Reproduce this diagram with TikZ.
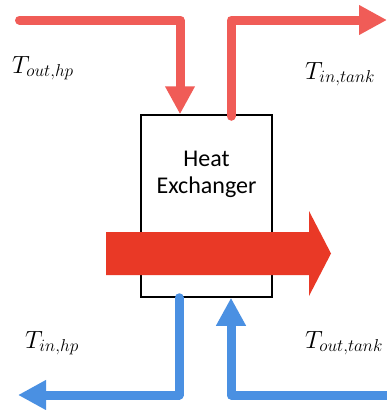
\documentclass[tikz,border=0pt]{standalone}
\usepackage{fontspec}
\setsansfont{Carlito}
\usetikzlibrary{arrows.meta}
\DeclareMathSizes{24}{24}{19}{15}
\definecolor{hotred}{RGB}{240,92,87}
\definecolor{bigred}{RGB}{233,57,38}
\definecolor{coldblue}{RGB}{74,144,226}
\tikzset{
  pipe/.style={line width=9pt, line cap=round, line join=round,
    -{Triangle[length=28pt,width=28pt]}},
  lbl/.style={anchor=base west, inner sep=0pt, font=\fontsize{24}{28}\selectfont},
  hxbox/.style={draw=black, line width=1.5pt, fill=white, minimum width=131pt,
    minimum height=182pt, inner sep=0pt}
}
\begin{document}
\begin{tikzpicture}[x=1pt,y=-1pt]
\useasboundingbox (0,0) rectangle (387,410);
% heat exchanger
\node[hxbox] (hx) at (206.5,206) {};
\node[align=center, font=\sffamily\fontsize{24}{27}\selectfont, inner sep=0pt] (hxt) at (206.5,174) {Heat\\Exchanger};
% hot side
\coordinate (hin) at (19.5,20);
\coordinate (hinc) at (180,20);
\coordinate (houtc) at (231,20);
\coordinate (hout) at (387,20);
\draw[pipe, hotred] (hin) -- (hinc) -- (hinc |- hx.north);
\draw[pipe, hotred] (hx.north -| houtc) ++(0,2) -- (houtc) -- (hout);
% cold side
\coordinate (cout) at (18,395);
\coordinate (coutc) at (179,395);
\coordinate (cinc) at (231,395);
\coordinate (cin) at (392,395);
\draw[pipe, coldblue] (hx.south -| coutc) -- (coutc) -- (cout);
\draw[pipe, coldblue, line cap=butt] (cin) -- (cinc) -- (cinc |- hx.south);
% big heat arrow
\fill[bigred] (106,232) -- (309,232) -- (309,211) -- (331,253.5) -- (309,296) -- (309,275) -- (106,275) -- cycle;
% labels
\node[lbl] (l1) at (12,73) {$T_{out,hp}$};
\node[lbl] (l2) at (305,79) {$T_{in,tank}$};
\node[lbl] (l3) at (25,348) {$T_{in,hp}$};
\node[lbl] (l4) at (305,348) {$T_{out,tank}$};
\end{tikzpicture}
\end{document}
